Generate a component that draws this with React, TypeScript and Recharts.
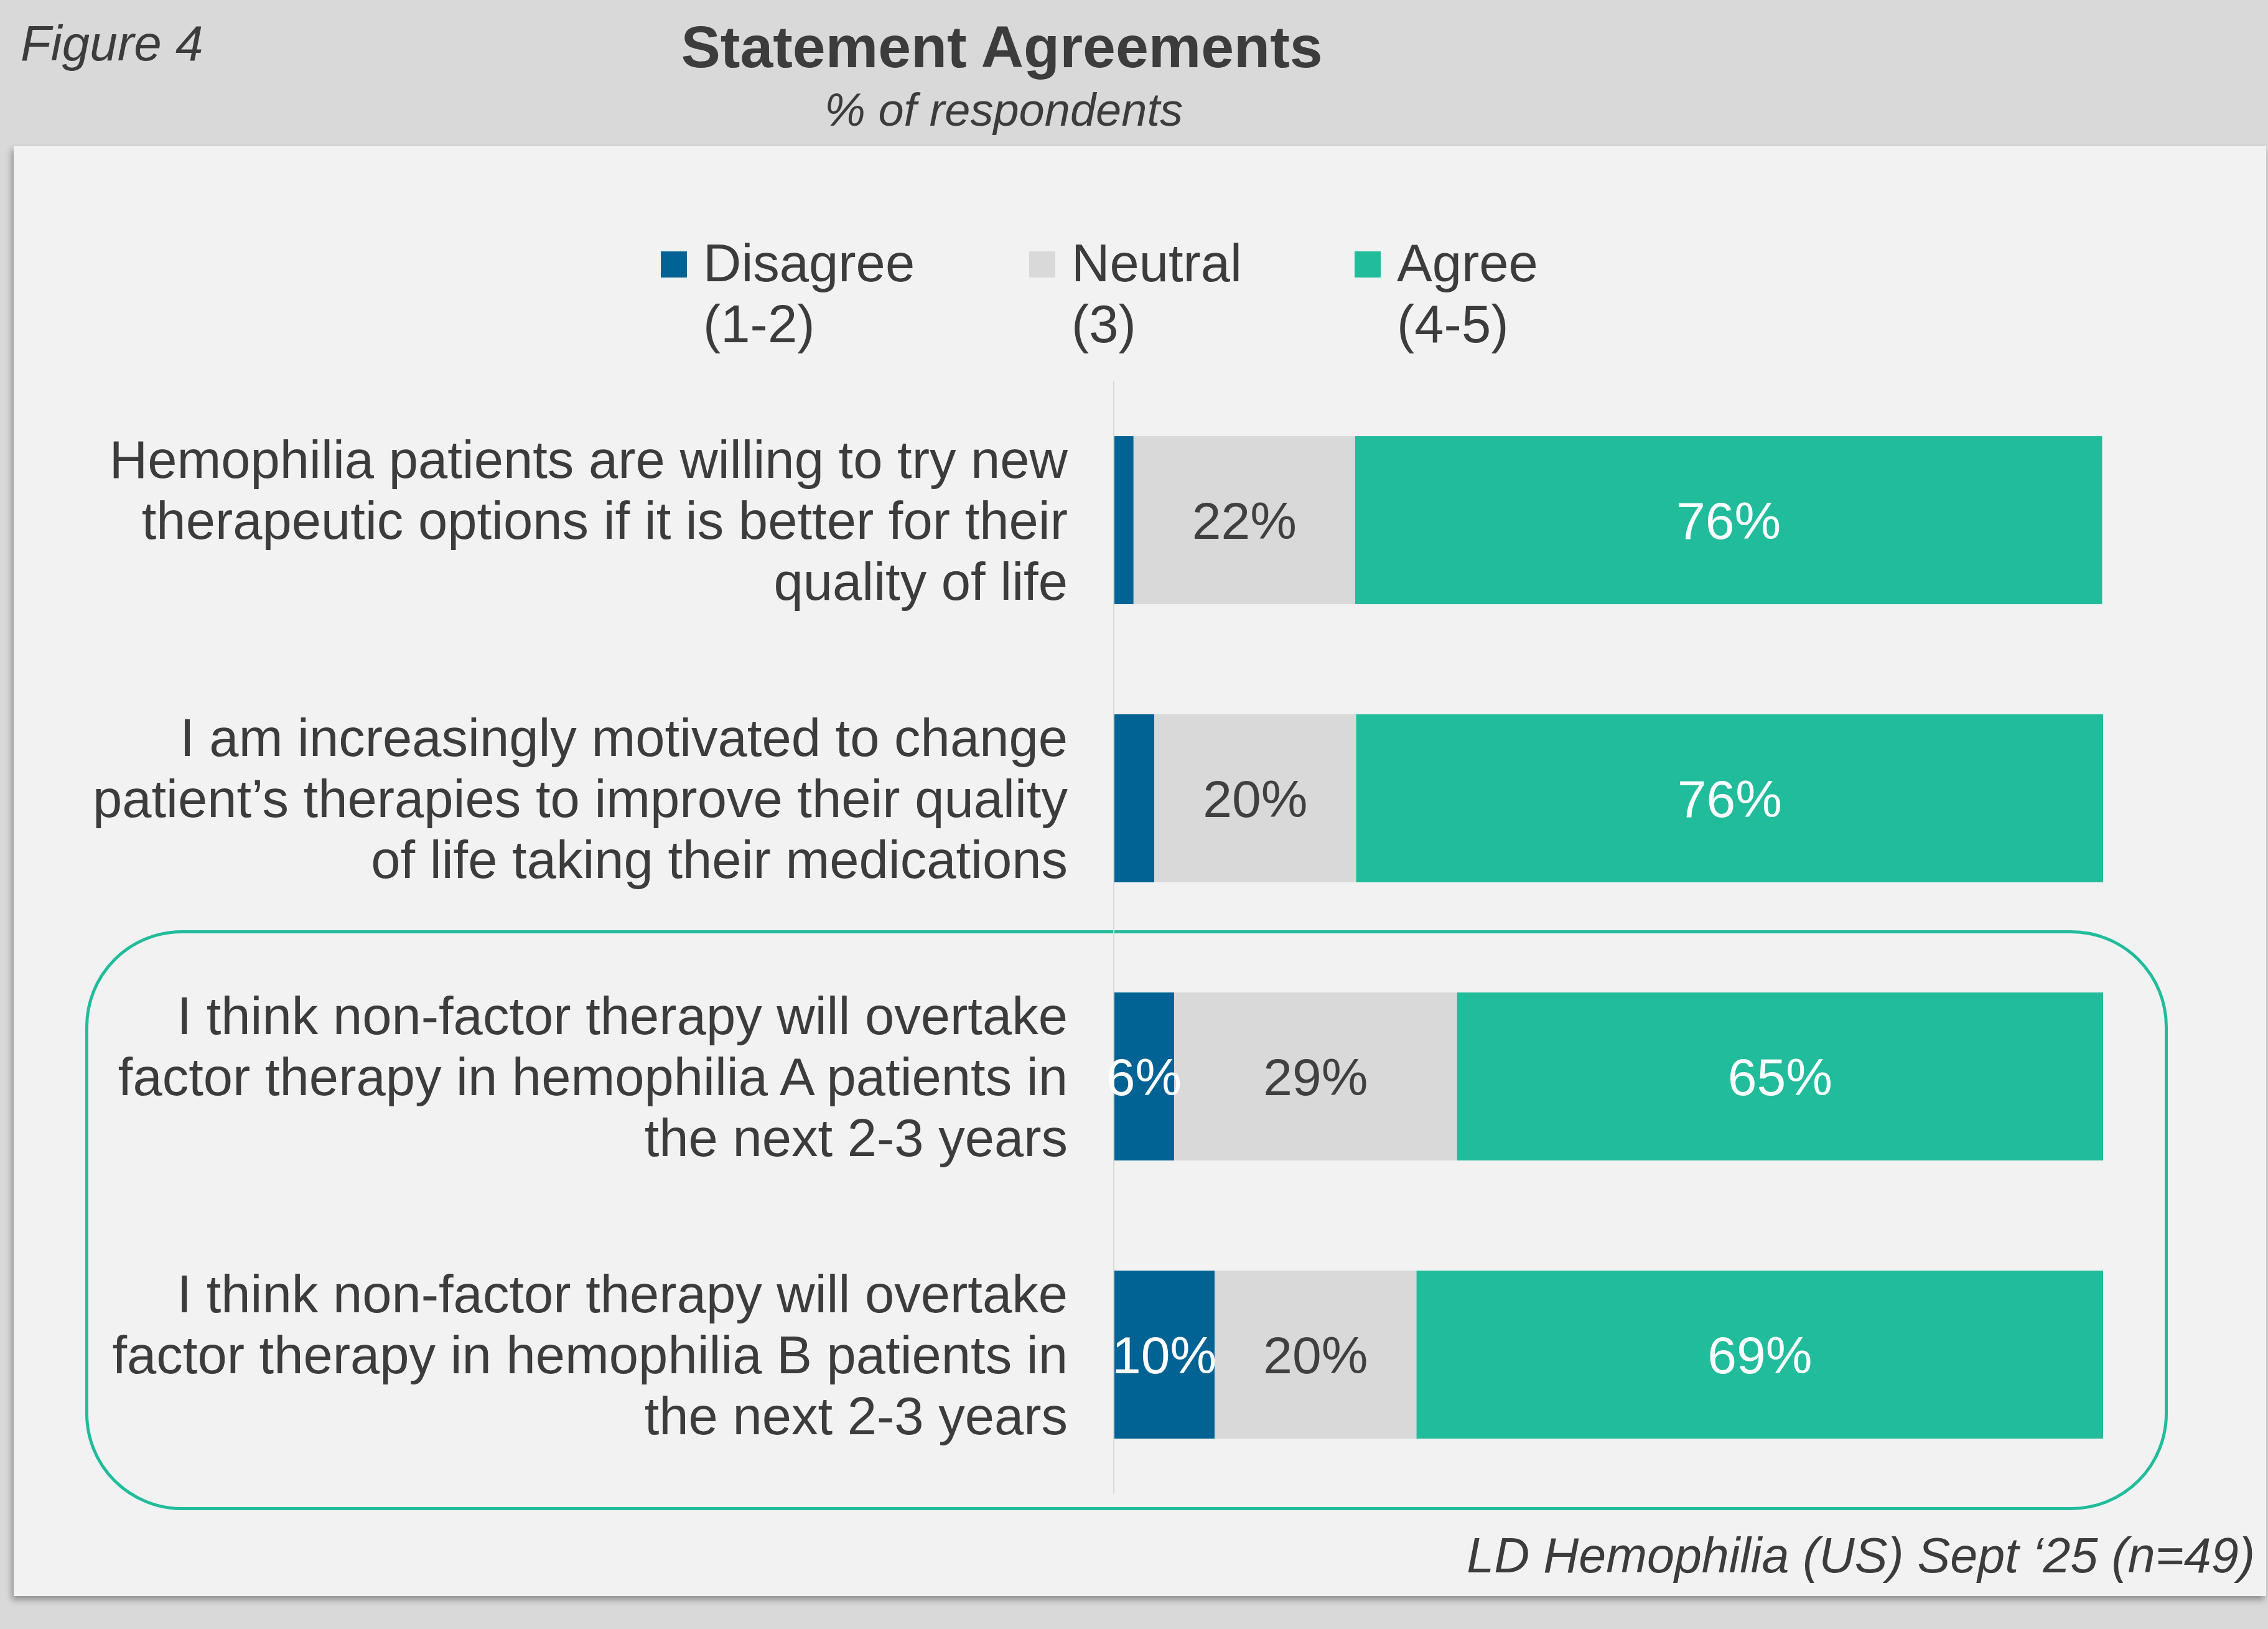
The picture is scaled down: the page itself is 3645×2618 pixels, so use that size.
import { BarChart, Bar, XAxis, YAxis, LabelList } from 'recharts';

const categories = [
  'Hemophilia patients are willing to try new\ntherapeutic options if it is better for their\nquality of life',
  'I am increasingly motivated to change\npatient’s therapies to improve their quality\nof life taking their medications',
  'I think non-factor therapy will overtake\nfactor therapy in hemophilia A patients in\nthe next 2-3 years',
  'I think non-factor therapy will overtake\nfactor therapy in hemophilia B patients in\nthe next 2-3 years',
];

// % of respondents (n=49)
const disagree = [2.0, 4.1, 6.1, 10.2];
const neutral = [22.4, 20.4, 28.6, 20.4];
const agree = [75.5, 75.5, 65.3, 69.4];

const seriesKeys = ['disagree', 'neutral', 'agree'];
const seriesNames = ['Disagree\n(1-2)', 'Neutral\n(3)', 'Agree\n(4-5)'];
const seriesColors = ['#006394', '#d9d9d9', '#21bc9b'];
const labelColors = ['#ffffff', '#404040', '#ffffff'];

const data = categories.map((category, i) => ({
  category,
  disagree: disagree[i],
  neutral: neutral[i],
  agree: agree[i],
}));

const FONT = '"Liberation Sans", Arial, Helvetica, sans-serif';
const TEXT = '#3c3c3c';

function CategoryTick(props: any) {
  const { x, y, payload } = props;
  const lines: string[] = String(payload.value).split('\n');
  const lh = 98;
  return (
    <text x={x} y={y} textAnchor="end" fill={TEXT} fontSize={85} fontFamily={FONT}>
      {lines.map((line, i) => (
        <tspan key={i} x={x} y={y + (i - (lines.length - 1) / 2) * lh} dy="0.355em">
          {line}
        </tspan>
      ))}
    </text>
  );
}

const makeLabel = (color: string, minValue: number) => (props: any) => {
  const { x, y, width, height, value } = props;
  if (value == null || value < minValue) return null;
  return (
    <text
      x={x + width / 2}
      y={y + height / 2}
      dy="0.355em"
      textAnchor="middle"
      fill={color}
      fontSize={84}
      fontFamily={FONT}
    >
      {Math.round(value)}%
    </text>
  );
};

export default function App() {
  const legendX = [1062, 1654, 2177];

  return (
    <div
      style={{
        position: 'absolute',
        left: 0,
        top: 0,
        width: 3645,
        height: 2618,
        background: '#d9d9d9',
        overflow: 'hidden',
        fontFamily: FONT,
      }}
    >
      {/* white panel */}
      <div
        style={{
          position: 'absolute',
          left: 22,
          top: 235,
          width: 3620,
          height: 2330,
          background: '#f2f2f2',
          boxShadow: '-3px 6px 10px rgba(0,0,0,0.35)',
        }}
      />
      {/* highlight box around last two statements */}
      <div
        style={{
          position: 'absolute',
          left: 137,
          top: 1495,
          width: 3347,
          height: 932,
          boxSizing: 'border-box',
          border: '5px solid #21bc9b',
          borderRadius: 155,
        }}
      />

      <div style={{ position: 'absolute', left: 0, top: 0 }}>
        <BarChart
          width={3645}
          height={2618}
          data={data}
          layout="vertical"
          margin={{ top: 612, right: 265, bottom: 218, left: 0 }}
          barSize={270}
        >
          <XAxis type="number" domain={[0, 100]} hide />
          <YAxis
            type="category"
            dataKey="category"
            width={1790}
            axisLine={{ stroke: '#d9d9d9', strokeWidth: 2 }}
            tickLine={false}
            tickSize={0}
            tickMargin={74}
            interval={0}
            tick={(p: any) => <CategoryTick {...p} />}
          />
          {seriesKeys.map((key, i) => (
            <Bar
              key={key}
              dataKey={key}
              name={seriesNames[i]}
              stackId="a"
              fill={seriesColors[i]}
              isAnimationActive={false}
            >
              <LabelList dataKey={key} content={makeLabel(labelColors[i], i === 0 ? 5 : 0)} />
            </Bar>
          ))}
        </BarChart>
      </div>

      {/* titles, legend, footnote */}
      <svg
        width={3645}
        height={2618}
        style={{ position: 'absolute', left: 0, top: 0, pointerEvents: 'none' }}
      >
        <text x={33} y={97} fontSize={80} fontStyle="italic" fill={TEXT} fontFamily={FONT}>
          Figure 4
        </text>
        <text
          x={1610}
          y={108}
          fontSize={95}
          fontWeight="bold"
          textAnchor="middle"
          fill={TEXT}
          fontFamily={FONT}
        >
          Statement Agreements
        </text>
        <text
          x={1613}
          y={202}
          fontSize={74}
          fontStyle="italic"
          textAnchor="middle"
          fill={TEXT}
          fontFamily={FONT}
        >
          % of respondents
        </text>

        {seriesNames.map((name, i) => {
          const [l1, l2] = name.split('\n');
          const x = legendX[i];
          return (
            <g key={name}>
              <rect x={x} y={404} width={42} height={42} fill={seriesColors[i]} />
              <text x={x + 68} y={452} fontSize={85} fill={TEXT} fontFamily={FONT}>
                {l1}
              </text>
              <text x={x + 68} y={550} fontSize={85} fill={TEXT} fontFamily={FONT}>
                {l2}
              </text>
            </g>
          );
        })}

        <text
          x={3624}
          y={2527}
          fontSize={79}
          fontStyle="italic"
          textAnchor="end"
          fill={TEXT}
          fontFamily={FONT}
        >
          LD Hemophilia (US) Sept ‘25 (n=49)
        </text>
      </svg>
    </div>
  );
}
